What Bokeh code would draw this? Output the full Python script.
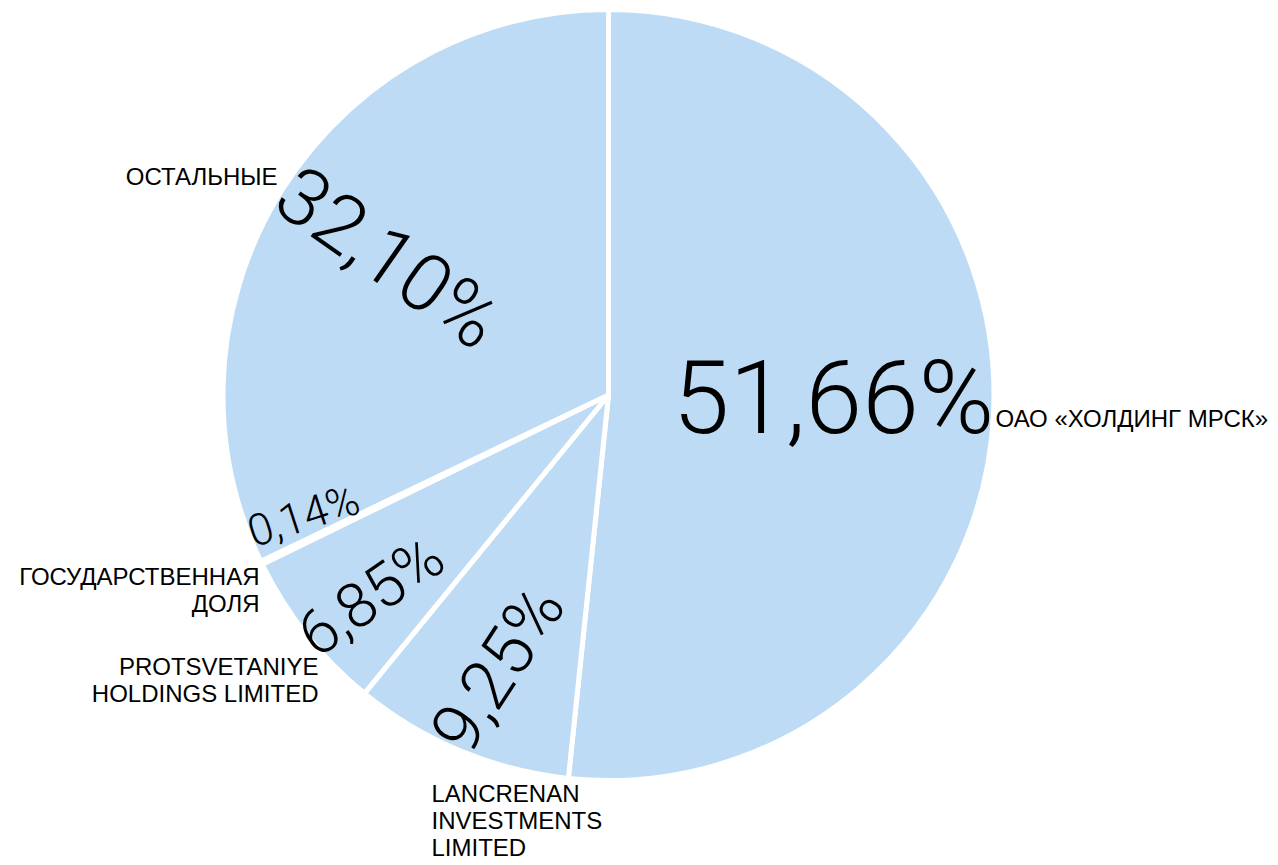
import math
from bokeh.plotting import figure
from bokeh.models import Range1d, ColumnDataSource
from bokeh.core.properties import value
from bokeh.embed import file_html
from bokeh.resources import INLINE

# ---------------- data ----------------
holders = ["ОАО «ХОЛДИНГ МРСК»", "LANCRENAN\nINVESTMENTS\nLIMITED",
           "PROTSVETANIYE\nHOLDINGS LIMITED", "ГОСУДАРСТВЕННАЯ\nДОЛЯ", "ОСТАЛЬНЫЕ"]
shares = [51.66, 9.25, 6.85, 0.14, 32.10]

# ---------------- layout ----------------
W, H = 1278, 865
CX, CY = 608, H - 394.5          # pie centre (data units = pixels, y up)
R = 385.5
SLICE_COLOR = "#BDDBF4"

# percent label offsets from centre (dx, dy up), rotation (deg), font size
pct_dx = [225, -111, -238, -305, -220]
pct_dy = [-2.5, -273.5, -200.5, -120.5, 137]
pct_rot = [0, 57, 35, 18, -35]
pct_size = ["102px", "70px", "62px", "44px", "80px"]

# holder name anchors (x, y up) and alignment
name_x = [995, 431, 318, 259, 277]
name_y = [H - 418, H - 820, H - 679, H - 589.5, H - 176]
name_align = ["left", "left", "right", "right", "right"]

# ---------------- build ----------------
total = sum(shares)
starts, ends = [], []
cum = 0.0
for s in shares:
    a0 = math.pi / 2 - 2 * math.pi * cum / total
    cum += s
    a1 = math.pi / 2 - 2 * math.pi * cum / total
    starts.append(a1)
    ends.append(a0)

p = figure(width=W, height=H, x_range=Range1d(0, W), y_range=Range1d(0, H),
           output_backend="svg", toolbar_location=None, min_border=0)
p.axis.visible = False
p.grid.visible = False
p.outline_line_color = None
p.background_fill_color = "white"

wsrc = ColumnDataSource(dict(x=[CX] * len(shares), y=[CY] * len(shares),
                             start=starts, end=ends))
p.wedge(x="x", y="y", radius=R, start_angle="start", end_angle="end",
        source=wsrc, fill_color=SLICE_COLOR, line_color="white", line_width=5)

labels = [f"{v:.2f}".replace(".", ",") + "%" for v in shares]
for i, lab in enumerate(labels):
    p.text(x=[CX + pct_dx[i]], y=[CY + pct_dy[i]], text=[lab],
           angle=math.radians(pct_rot[i]), text_align="center",
           text_baseline="middle", text_font=value("Roboto Light"),
           text_font_size=pct_size[i], text_color="black")

for i, name in enumerate(holders):
    p.text(x=[name_x[i]], y=[name_y[i]], text=[name], text_align=name_align[i],
           text_baseline="middle", text_font=value("Liberation Sans"),
           text_font_size="24px", text_line_height=1.0, text_color="black")

open("out.html", "w").write(file_html(p, INLINE))
